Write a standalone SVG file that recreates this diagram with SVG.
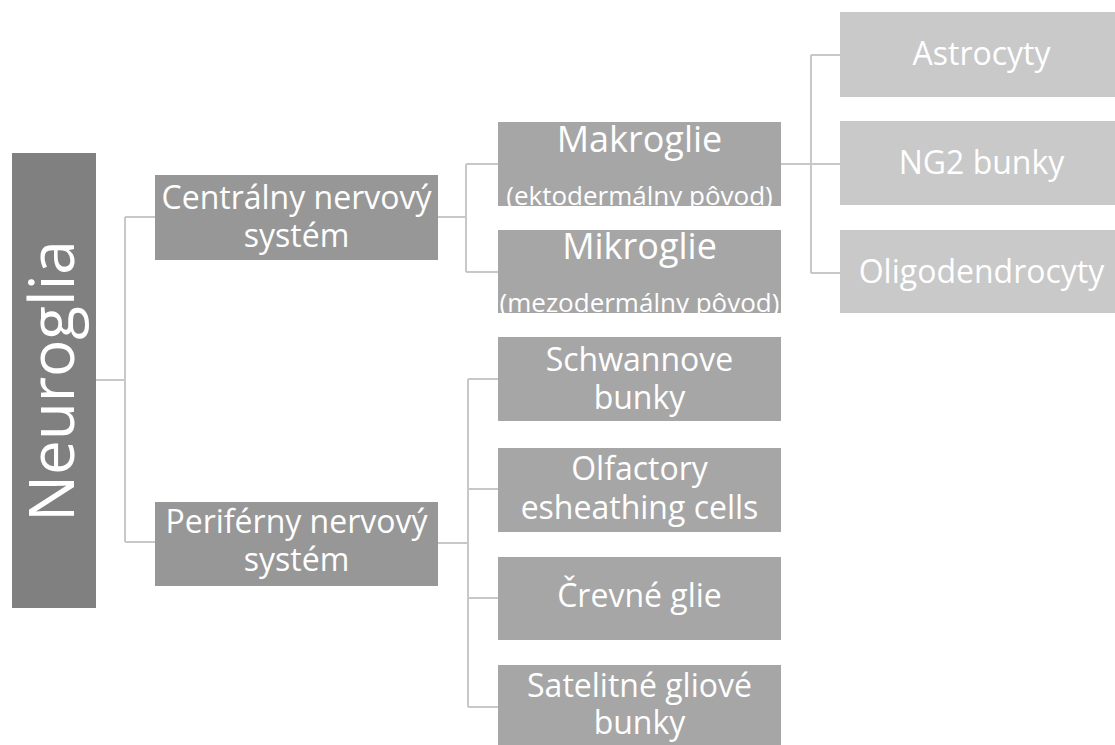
<svg xmlns="http://www.w3.org/2000/svg" width="1115" height="745" viewBox="0 0 1115 745">
<style>
  text { font-family: "Open Sans", "Noto Sans", sans-serif; fill: #ffffff; text-anchor: middle; }
  .t { font-size: 32px; }
  .big { font-size: 36px; }
  .sub { font-size: 26px; }
  .l1 { fill: #808080; }
  .l2 { fill: #979797; }
  .l3 { fill: #a6a6a6; }
  .l4 { fill: #c9c9c9; }
  .conn { fill: none; stroke: #c8c8c8; stroke-width: 2; }
</style>
<defs>
  <clipPath id="cMakro"><rect x="498" y="122" width="283" height="84"/></clipPath>
  <clipPath id="cMikro"><rect x="498" y="230" width="283" height="83"/></clipPath>
</defs>
<rect width="1115" height="745" fill="#ffffff"/>
<g id="connectors">
  <path class="conn" d="M96 380 H125 M125 217 V542 M125 217 H155 M125 542 H155"/>
  <path class="conn" d="M438 217 H466 M466 164 V272 M466 164 H498 M466 272 H498"/>
  <path class="conn" d="M781 164 H811 M811 55 V273 M811 55 H840 M811 164 H840 M811 273 H840"/>
  <path class="conn" d="M438 543 H468 M468 379 V707 M468 379 H498 M468 489 H498 M468 598 H498 M468 707 H498"/>
</g>
<g id="neuroglia">
  <rect class="l1" x="12" y="153" width="84" height="455"/>
  <text transform="translate(74,381) rotate(-90)" style="font-size:62px">Neuroglia</text>
</g>
<g id="cns">
  <rect class="l2" x="155" y="175" width="283" height="85"/>
  <text class="t" x="296.5" y="209">Centrálny nervový<tspan x="296.5" dy="38">systém</tspan></text>
</g>
<g id="pns">
  <rect class="l2" x="155" y="502" width="283" height="84"/>
  <text class="t" x="296.5" y="533">Periférny nervový<tspan x="296.5" dy="38">systém</tspan></text>
</g>
<g id="makroglie">
  <rect class="l3" x="498" y="122" width="283" height="84"/>
  <g clip-path="url(#cMakro)">
    <text class="big" x="639.5" y="152">Makroglie<tspan class="sub" x="639.5" dy="53">(ektodermálny pôvod)</tspan></text>
  </g>
</g>
<g id="mikroglie">
  <rect class="l3" x="498" y="230" width="283" height="83"/>
  <g clip-path="url(#cMikro)">
    <text class="big" x="639.5" y="259">Mikroglie<tspan class="sub" x="639.5" dy="53">(mezodermálny pôvod)</tspan></text>
  </g>
</g>
<g id="astrocyty">
  <rect class="l4" x="840" y="12" width="283" height="85"/>
  <text class="t" x="981.5" y="65">Astrocyty</text>
</g>
<g id="ng2">
  <rect class="l4" x="840" y="121" width="283" height="84"/>
  <text class="t" x="981.5" y="174">NG2 bunky</text>
</g>
<g id="oligodendrocyty">
  <rect class="l4" x="840" y="230" width="283" height="83"/>
  <text class="t" x="981.5" y="283">Oligodendrocyty</text>
</g>
<g id="schwann">
  <rect class="l3" x="498" y="337" width="283" height="84"/>
  <text class="t" x="639.5" y="371">Schwannove<tspan x="639.5" dy="38">bunky</tspan></text>
</g>
<g id="olfactory">
  <rect class="l3" x="498" y="448" width="283" height="84"/>
  <text class="t" x="639.5" y="480">Olfactory<tspan x="639.5" dy="39">esheathing cells</tspan></text>
</g>
<g id="crevne">
  <rect class="l3" x="498" y="557" width="283" height="83"/>
  <text class="t" x="639.5" y="607">Črevné glie</text>
</g>
<g id="satelitne">
  <rect class="l3" x="498" y="665" width="283" height="84"/>
  <text class="t" x="639.5" y="697">Satelitné gliové<tspan x="639.5" dy="37">bunky</tspan></text>
</g>
</svg>
